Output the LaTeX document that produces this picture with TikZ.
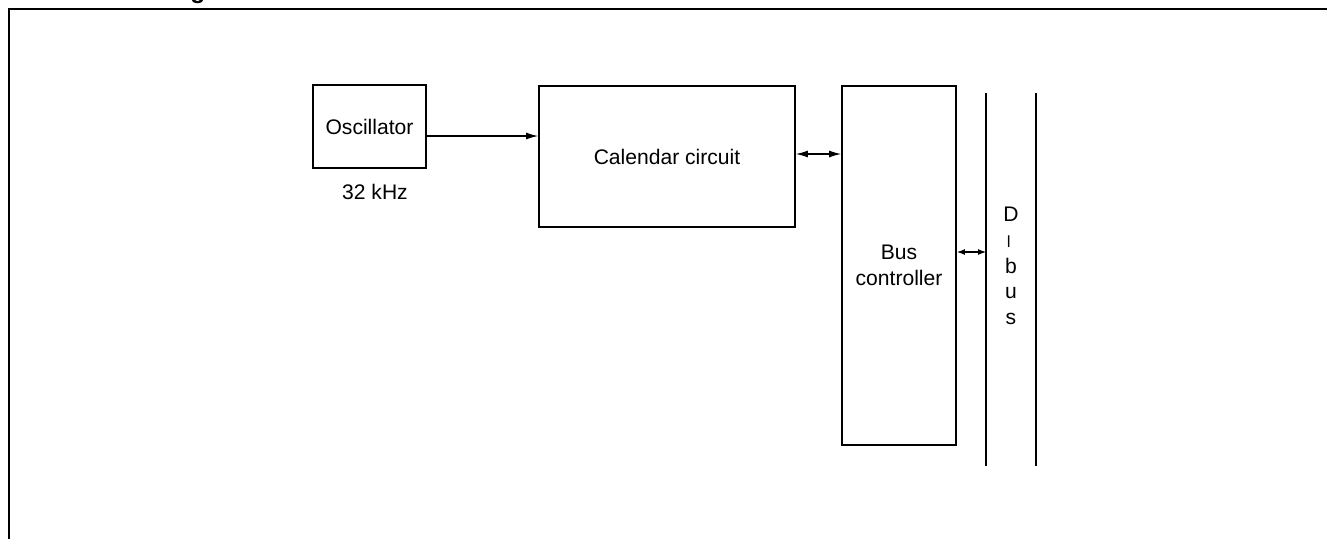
\documentclass[tikz,border=0pt]{standalone}
\usepackage{fontspec}
\setmainfont{Liberation Sans}
\usepackage{tikz}
\usetikzlibrary{positioning,arrows.meta,calc}

\begin{document}
\begin{tikzpicture}[
  x=0.02cm, y=-0.02cm,
  every node/.style={font=\fontsize{12pt}{14.6pt}\selectfont},
  frame/.style={line width=1.7pt},
  blk/.style={rectangle, draw, line width=1.1pt, align=center},
  sig/.style={-{Latex[length=2.4mm,width=1.4mm]}, line width=0.6pt},
  bidir/.style={{Latex[length=2.4mm,width=1.4mm]}-{Latex[length=2.4mm,width=1.4mm]}, line width=0.6pt},
  bidirs/.style={{Latex[length=1.6mm,width=1.2mm]}-{Latex[length=1.6mm,width=1.2mm]}, line width=0.6pt},
  busline/.style={line width=1.1pt}
]
  \useasboundingbox (0,0) rectangle (1327,538);

  % cut-off title and frame
  \node[anchor=base west, font=\bfseries\fontsize{14pt}{16pt}\selectfont, inner sep=0pt] (title) at (78,-1.5) {Block Diagram};
  \draw[frame] (9,540) -- (9,9) -- (1330,9);

  \node[blk, minimum width=2.26cm, minimum height=1.66cm] (osc) at (369.5,126.5) {Oscillator};
  \node (freq) at (375,192) {32 kHz};
  \node[blk, minimum width=5.12cm, minimum height=2.82cm] (cal) at (667,156.5) {Calendar circuit};
  \node[blk, minimum width=2.28cm, minimum height=7.18cm] (busctl) at (899,265.5) {Bus\\controller};

  \coordinate (busl) at (986,93);
  \coordinate (busr) at (1036,93);
  \foreach \c in {busl,busr} \draw[busline] (\c) -- ++(0,373);
  \node[align=center, inner sep=0pt] (dbus) at (1011,266) {D\\\rotatebox{90}{–}\\b\\u\\s};

  \draw[sig] (osc.east |- 0,136) -- (cal.west |- 0,136);
  \draw[bidir] (cal.east |- 0,154) -- (busctl.west |- 0,154);
  \draw[bidirs] (busctl.east |- 0,252) -- (busl |- 0,252);
\end{tikzpicture}
\end{document}
